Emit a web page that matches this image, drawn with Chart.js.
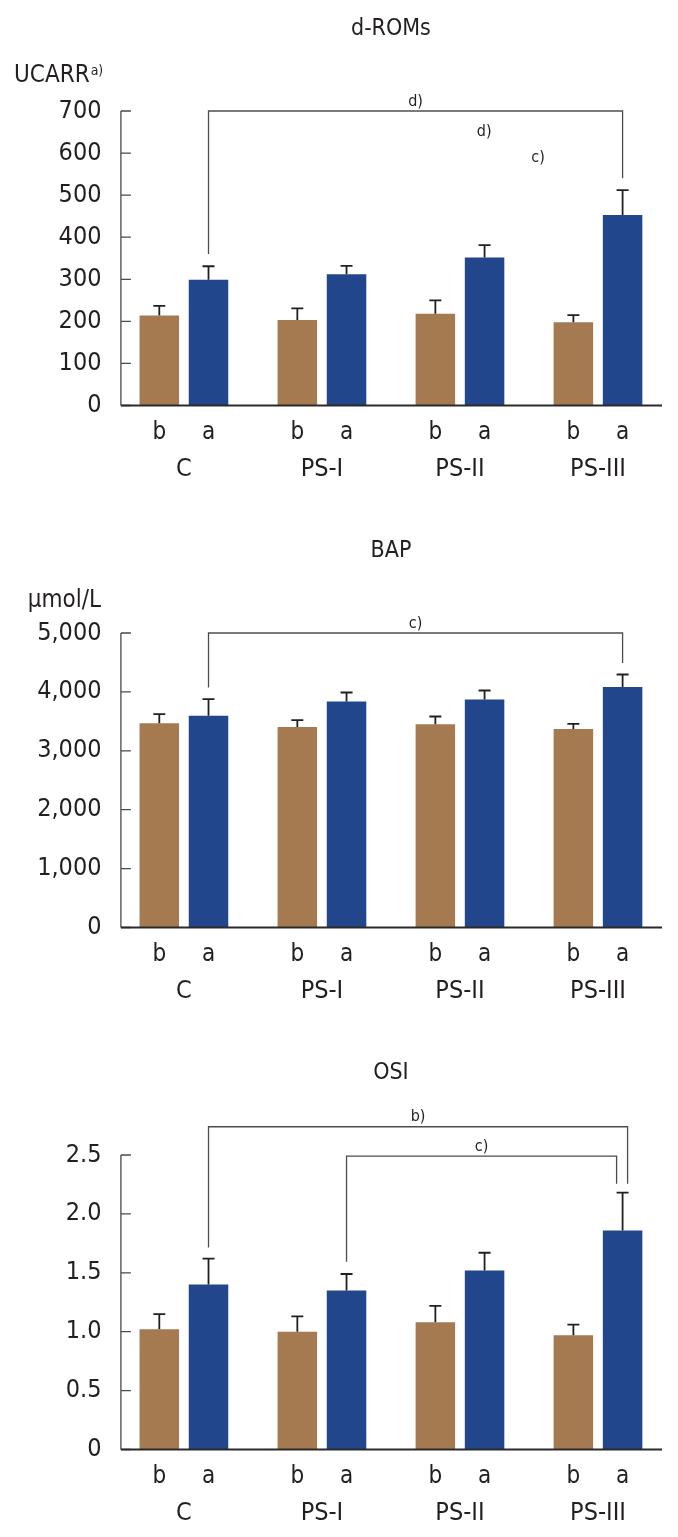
<!DOCTYPE html>
<html><head><meta charset="utf-8">
<script src="https://cdn.jsdelivr.net/npm/chart.js@4.4.1/dist/chart.umd.min.js"></script>
<style>
html,body{margin:0;padding:0;background:#fff;width:678px;height:1537px;overflow:hidden;}
.p{position:absolute;left:0;width:678px;}
canvas{display:block;}
</style></head><body>
<div class="p" style="top:0px"><canvas id="c1" width="678" height="522"></canvas></div>
<div class="p" style="top:522px"><canvas id="c2" width="678" height="522"></canvas></div>
<div class="p" style="top:1044px"><canvas id="c3" width="678" height="493"></canvas></div>
<script>
// ---------- data ----------
const groups = ['C', 'PS-I', 'PS-II', 'PS-III'];
const phaseLabels = ['b', 'a'];

// d-ROMs (UCARR)
const romsBefore   = [214, 203, 218, 198];
const romsBeforeSD = [23, 28, 32, 17];
const romsAfter    = [299, 312, 352, 453];
const romsAfterSD  = [32, 20, 29, 59];
const romsTicks    = ['0', '100', '200', '300', '400', '500', '600', '700'];
const romsBrackets = [{g1: 0, g2: 3, level: 700, end1: 360, end2: 540, label: 'd)'}];
const romsMarks    = [{x: 2.175, y: 641, label: 'd)'}, {x: 2.566, y: 578, label: 'c)'}];

// BAP (μmol/L)
const bapBefore   = [3469, 3406, 3452, 3372];
const bapBeforeSD = [152, 114, 130, 85];
const bapAfter    = [3593, 3837, 3871, 4085];
const bapAfterSD  = [283, 153, 153, 210];
const bapTicks    = ['0', '1,000', '2,000', '3,000', '4,000', '5,000'];
const bapBrackets = [{g1: 0, g2: 3, level: 5000, end1: 4073, end2: 4491, label: 'c)'}];

// OSI
const osiBefore   = [1.02, 1.00, 1.08, 0.97];
const osiBeforeSD = [0.13, 0.13, 0.14, 0.09];
const osiAfter    = [1.40, 1.35, 1.52, 1.86];
const osiAfterSD  = [0.22, 0.14, 0.15, 0.32];
const osiTicks    = ['0', '0.5', '1.0', '1.5', '2.0', '2.5'];
const osiBrackets = [
  {g1: 0, g2: 3, level: 2.74, end1: 1.714, end2: 2.257, label: 'b)', dx2: 5},
  {g1: 1, g2: 3, level: 2.49, end1: 1.593, end2: 2.257, label: 'c)', dx2: -6}
];

// ---------- style ----------
const BROWN = '#a67a50';
const BLUE = '#21468b';
const INK = '#231f20';
const FAM = "'Liberation Sans Narrow', 'DejaVu Sans Condensed', 'Liberation Sans', sans-serif";
const PLOT_BOTTOM = 405.5;

const overlay = {
  id: 'overlay',
  afterDatasetsDraw(chart) {
    const ctx = chart.ctx;
    const y = chart.scales.y;
    ctx.save();
    ctx.strokeStyle = INK;
    ctx.lineWidth = 1.8;
    chart.data.datasets.forEach((ds, i) => {
      const meta = chart.getDatasetMeta(i);
      meta.data.forEach((el, j) => {
        const top = y.getPixelForValue(ds.data[j] + ds.sd[j]);
        ctx.beginPath();
        ctx.moveTo(el.x, el.y);
        ctx.lineTo(el.x, top);
        ctx.moveTo(el.x - 6, top);
        ctx.lineTo(el.x + 6, top);
        ctx.stroke();
      });
    });
    ctx.restore();
  },
  afterDraw(chart) {
    const ctx = chart.ctx;
    const o = chart.options.plugins.overlay;
    const ca = chart.chartArea;
    const x = chart.scales.x, y = chart.scales.y;
    const axisX = ca.left + 6;
    ctx.save();
    // y axis
    ctx.strokeStyle = '#4a4a4a';
    ctx.lineWidth = 1.3;
    ctx.beginPath();
    const yTop = y.getPixelForValue(y.max);
    ctx.moveTo(axisX, yTop);
    ctx.lineTo(axisX, ca.bottom);
    y.ticks.forEach(t => {
      const py = y.getPixelForValue(t.value);
      ctx.moveTo(axisX, py);
      ctx.lineTo(axisX + 10, py);
    });
    ctx.stroke();
    // x axis
    ctx.strokeStyle = '#2a2a2a';
    ctx.lineWidth = 2;
    ctx.beginPath();
    ctx.moveTo(axisX, ca.bottom);
    ctx.lineTo(ca.right - 5, ca.bottom);
    ctx.stroke();

    ctx.fillStyle = INK;
    // b / a labels under each bar
    ctx.font = '24px ' + FAM;
    ctx.textAlign = 'center';
    ctx.textBaseline = 'alphabetic';
    chart.data.datasets.forEach((ds, i) => {
      chart.getDatasetMeta(i).data.forEach(el => {
        ctx.fillText(phaseLabels[i], el.x, ca.bottom + 33);
      });
    });
    // title
    ctx.font = '23px ' + FAM;
    ctx.fillText(o.title, (ca.left + ca.right) / 2, 35);
    // unit
    if (o.unit) {
      ctx.font = '24px ' + FAM;
      if (o.unitSup) {
        ctx.textAlign = 'left';
        ctx.fillText(o.unit, 14, 82);
        const w = ctx.measureText(o.unit).width;
        ctx.font = '14px ' + FAM;
        ctx.fillText(o.unitSup, 14 + w + 1, 75);
      } else {
        ctx.textAlign = 'right';
        ctx.fillText(o.unit, 101, 85);
      }
    }
    // brackets
    ctx.textAlign = 'center';
    ctx.font = '16px ' + FAM;
    ctx.strokeStyle = '#4d4d4d';
    ctx.lineWidth = 1.3;
    const aMeta = chart.getDatasetMeta(1);
    (o.brackets || []).forEach(b => {
      const x1 = aMeta.data[b.g1].x + (b.dx1 || 0);
      const x2 = aMeta.data[b.g2].x + (b.dx2 || 0);
      const ly = y.getPixelForValue(b.level);
      ctx.beginPath();
      ctx.moveTo(x1, y.getPixelForValue(b.end1));
      ctx.lineTo(x1, ly);
      ctx.lineTo(x2, ly);
      ctx.lineTo(x2, y.getPixelForValue(b.end2));
      ctx.stroke();
      ctx.fillText(b.label, (x1 + x2) / 2, ly - 5.5);
    });
    (o.marks || []).forEach(m => {
      ctx.fillText(m.label, x.getPixelForValue(m.x), y.getPixelForValue(m.y));
    });
    ctx.restore();
  }
};

function makeChart(id, before, beforeSD, after, afterSD, tickLabels, max, step, title, unit, unitSup, brackets, marks) {
  const canvas = document.getElementById(id);
  const H = canvas.height;
  return new Chart(canvas, {
    type: 'bar',
    data: {
      labels: groups,
      datasets: [
        {label: phaseLabels[0], data: before, sd: beforeSD, backgroundColor: BROWN, categoryPercentage: 0.713, barPercentage: 0.803},
        {label: phaseLabels[1], data: after, sd: afterSD, backgroundColor: BLUE, categoryPercentage: 0.713, barPercentage: 0.803}
      ]
    },
    options: {
      responsive: false,
      animation: false,
      devicePixelRatio: 1,
      layout: {padding: {top: 111, right: 11, left: 0, bottom: 0}},
      plugins: {
        legend: {display: false},
        tooltip: {enabled: false},
        overlay: {title, unit, unitSup, brackets, marks}
      },
      scales: {
        x: {
          grid: {display: false, drawTicks: false},
          border: {display: false},
          ticks: {padding: 49, color: INK, font: {family: FAM, size: 25}, autoSkip: false, maxRotation: 0},
          afterFit: s => { s.height = H - PLOT_BOTTOM; }
        },
        y: {
          min: 0, max: max,
          grid: {display: false, drawTicks: false},
          border: {display: false},
          ticks: {stepSize: step, padding: 13.4, color: INK, font: {family: FAM, size: 25},
                  callback: (v, i) => tickLabels[i]},
          afterFit: s => { s.width = 114.9; }
        }
      }
    },
    plugins: [overlay]
  });
}

makeChart('c1', romsBefore, romsBeforeSD, romsAfter, romsAfterSD, romsTicks, 700, 100, 'd-ROMs', 'UCARR', 'a)', romsBrackets, romsMarks);
makeChart('c2', bapBefore, bapBeforeSD, bapAfter, bapAfterSD, bapTicks, 5000, 1000, 'BAP', 'μmol/L', null, bapBrackets, []);
makeChart('c3', osiBefore, osiBeforeSD, osiAfter, osiAfterSD, osiTicks, 2.5, 0.5, 'OSI', null, null, osiBrackets, []);
</script>
</body></html>
